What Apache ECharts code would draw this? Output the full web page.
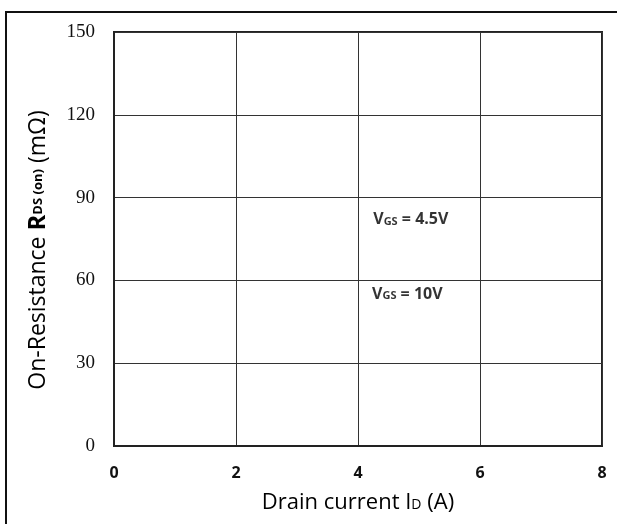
<!DOCTYPE html>
<html>
<head>
<meta charset="utf-8">
<script src="https://cdn.jsdelivr.net/npm/echarts@6/dist/echarts.min.js"></script>
<style>
  html, body { margin: 0; padding: 0; background: #fff; }
  #chart { width: 617px; height: 524px; }
</style>
</head>
<body>
<div id="chart"></div>
<script>
// Axis ranges and tick steps
const xTicks = [0, 2, 4, 6, 8];
const yTicks = [0, 30, 60, 90, 120, 150];

// Curve annotations: gate voltage labels placed in data coordinates
const noteX = [4.25, 4.23];
const noteY = [82, 55];
const noteGate = ['4.5V', '10V'];

const chart = echarts.init(document.getElementById('chart'), null, { renderer: 'canvas' });

const notes = noteX.map((x, i) => ({ value: [x, noteY[i]], gate: noteGate[i] }));

chart.setOption({
  backgroundColor: '#ffffff',
  animation: false,
  graphic: [{
    type: 'rect',
    shape: { x: 6, y: 12, width: 640, height: 540 },
    style: { fill: 'none', stroke: '#111', lineWidth: 2 },
    silent: true
  }],
  grid: {
    left: 114, top: 32, right: 15, bottom: 78,
    show: true, borderColor: '#222', borderWidth: 2, backgroundColor: 'transparent'
  },
  xAxis: {
    type: 'value',
    min: xTicks[0], max: xTicks[xTicks.length - 1], interval: 2,
    name: 'Drain current I{s|D} (A)',
    nameLocation: 'middle',
    nameGap: 46,
    nameTextStyle: {
      fontFamily: 'Open Sans', fontSize: 22, color: '#000',
      rich: { s: { fontFamily: 'Open Sans', fontSize: 14, color: '#000', padding: [5, 0, 0, 0] } }
    },
    axisLine: { show: true, lineStyle: { color: '#222', width: 2 } },
    axisTick: { show: false },
    axisLabel: { margin: 19, fontFamily: 'Open Sans', fontWeight: 'bold', fontSize: 16, color: '#111' },
    splitLine: { show: true, lineStyle: { color: '#333', width: 1 } }
  },
  yAxis: {
    type: 'value',
    min: yTicks[0], max: yTicks[yTicks.length - 1], interval: 30,
    name: 'On-Resistance {b|R}{s|DS (on)} (mΩ)',
    nameLocation: 'middle',
    nameGap: 64,
    nameRotate: 90,
    nameTextStyle: {
      fontFamily: 'Open Sans', fontSize: 23, color: '#000',
      padding: [0, 22, 0, 0],
      rich: {
        b: { fontFamily: 'Open Sans', fontWeight: 'bold', fontSize: 24, color: '#000' },
        s: { fontFamily: 'Open Sans', fontWeight: 'bold', fontSize: 13, color: '#000' }
      }
    },
    axisLine: { show: true, lineStyle: { color: '#222', width: 2 } },
    axisTick: { show: false },
    axisLabel: { margin: 19, fontFamily: 'Liberation Serif', fontSize: 19, color: '#111' },
    splitLine: { show: true, lineStyle: { color: '#333', width: 1 } }
  },
  series: [{
    type: 'scatter',
    symbolSize: 0,
    data: notes,
    silent: true,
    label: {
      show: true,
      position: 'right',
      distance: 0,
      formatter: p => '{v|V}{s|GS}{v| = ' + p.data.gate + '}',
      rich: {
        v: { fontFamily: 'Open Sans', fontWeight: 'bold', fontSize: 16, color: '#000' },
        s: { fontFamily: 'Open Sans', fontWeight: 'bold', fontSize: 11, color: '#000', padding: [4, 0, 0, 0] }
      }
    }
  }]
});
</script>
</body>
</html>
